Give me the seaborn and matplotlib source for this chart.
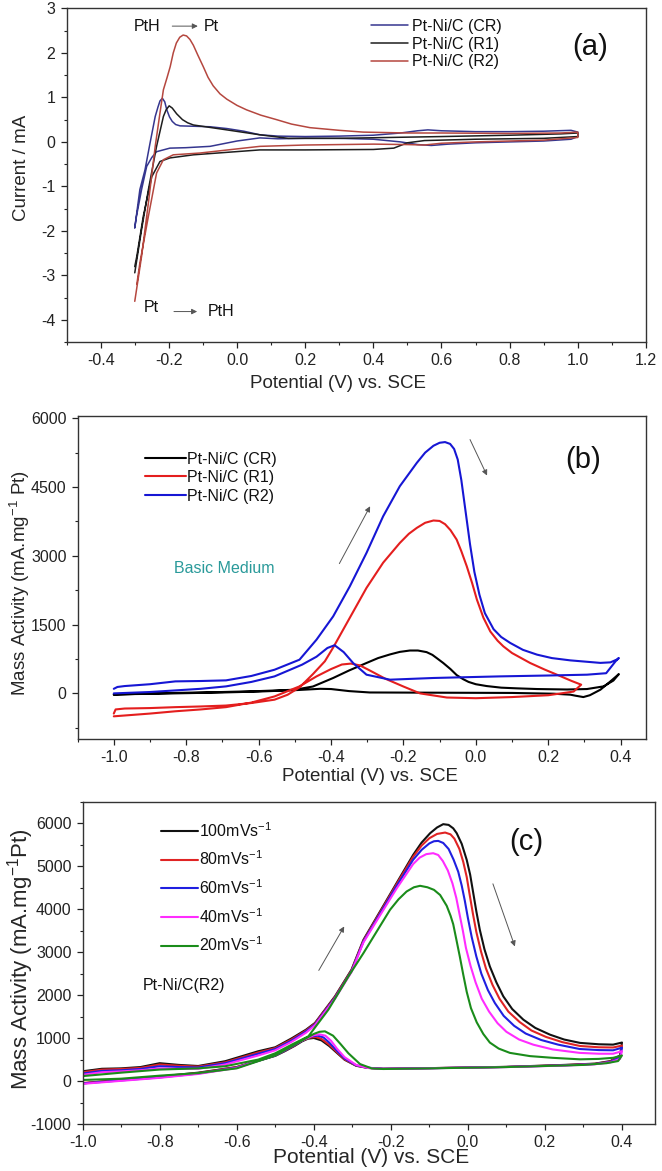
import matplotlib
import matplotlib.pyplot as plt
import seaborn as sns
from matplotlib.ticker import MultipleLocator

matplotlib.use("Agg")

# ---------------------------------------------------------------------------
# Panel (a): CV in acid, current (mA) vs potential (V vs SCE)
# each series is one closed loop of (potential, current) points read off the
# figure: anodic sweep first, then the return sweep
# ---------------------------------------------------------------------------
A_CR = [(-0.300, -1.93), (-0.285, -1.07), (-0.270, -0.63), (-0.255, -0.02), (-0.240, 0.57),
        (-0.232, 0.78), (-0.226, 0.92), (-0.219, 0.98), (-0.212, 0.90), (-0.206, 0.72),
        (-0.198, 0.56), (-0.190, 0.46), (-0.180, 0.39), (-0.167, 0.36), (-0.120, 0.35),
        (-0.079, 0.34), (-0.030, 0.30), (0.020, 0.24), (0.067, 0.16), (0.120, 0.13),
        (0.200, 0.12), (0.300, 0.13), (0.400, 0.15), (0.480, 0.20), (0.530, 0.25),
        (0.560, 0.27), (0.600, 0.25), (0.700, 0.23), (0.800, 0.23), (0.900, 0.24),
        (0.980, 0.26), (1.000, 0.22), (1.000, 0.12), (0.980, 0.06), (0.900, 0.02),
        (0.800, 0.00), (0.700, -0.02), (0.620, -0.05), (0.570, -0.08), (0.530, -0.06),
        (0.480, 0.00), (0.400, 0.06), (0.300, 0.08), (0.200, 0.08), (0.120, 0.07),
        (0.067, 0.09), (0.000, 0.02), (-0.079, -0.10), (-0.150, -0.13), (-0.197, -0.14),
        (-0.236, -0.22), (-0.250, -0.35), (-0.265, -0.55), (-0.280, -1.07), (-0.295, -1.67),
        (-0.300, -1.93)]

A_R1 = [(-0.300, -2.94), (-0.280, -1.97), (-0.260, -1.07), (-0.236, -0.10), (-0.216, 0.57),
        (-0.208, 0.72), (-0.199, 0.81), (-0.190, 0.76), (-0.177, 0.63), (-0.160, 0.50),
        (-0.145, 0.43), (-0.128, 0.38), (-0.030, 0.27), (0.067, 0.16), (0.150, 0.08),
        (0.300, 0.08), (0.450, 0.10), (0.600, 0.12), (0.800, 0.15), (0.950, 0.18),
        (1.000, 0.20), (1.000, 0.12), (0.900, 0.08), (0.700, 0.06), (0.550, 0.03),
        (0.500, -0.02), (0.460, -0.14), (0.400, -0.17), (0.200, -0.18), (0.067, -0.18),
        (-0.128, -0.29), (-0.197, -0.36), (-0.226, -0.44), (-0.250, -0.78), (-0.275, -1.67),
        (-0.294, -2.57), (-0.300, -2.80)]

A_R2 = [(-0.300, -3.58), (-0.280, -2.57), (-0.260, -1.37), (-0.240, -0.10), (-0.226, 0.65),
        (-0.216, 1.17), (-0.205, 1.45), (-0.196, 1.69), (-0.187, 2.00), (-0.178, 2.22),
        (-0.168, 2.35), (-0.158, 2.40), (-0.148, 2.38), (-0.138, 2.30), (-0.128, 2.17),
        (-0.115, 1.95), (-0.099, 1.69), (-0.085, 1.45), (-0.070, 1.26), (-0.050, 1.08),
        (-0.030, 0.96), (0.000, 0.82), (0.028, 0.72), (0.070, 0.60), (0.116, 0.50),
        (0.160, 0.40), (0.214, 0.32), (0.300, 0.26), (0.370, 0.22), (0.500, 0.20),
        (0.600, 0.20), (0.800, 0.19), (0.950, 0.20), (1.000, 0.22), (1.000, 0.10),
        (0.900, 0.04), (0.700, 0.00), (0.600, -0.03), (0.550, -0.07), (0.500, -0.06),
        (0.400, -0.05), (0.200, -0.07), (0.067, -0.10), (-0.109, -0.25), (-0.187, -0.29),
        (-0.216, -0.40), (-0.236, -0.70), (-0.260, -1.67), (-0.285, -2.72), (-0.294, -3.20)]

A_LABELS = ["Pt-Ni/C (CR)", "Pt-Ni/C (R1)", "Pt-Ni/C (R2)"]
A_COLORS = ["#35368f", "#1e1e1e", "#b5473f"]

# ---------------------------------------------------------------------------
# Panel (b): methanol oxidation in basic medium, mass activity
# ---------------------------------------------------------------------------
B_CR = [(-1.00, -30), (-0.90, 0), (-0.80, 15), (-0.70, 30), (-0.60, 50),
        (-0.50, 80), (-0.45, 150), (-0.394, 336), (-0.35, 500), (-0.302, 663),
        (-0.27, 770), (-0.237, 850), (-0.21, 905), (-0.182, 935), (-0.16, 935),
        (-0.136, 900), (-0.12, 840), (-0.108, 770), (-0.09, 663), (-0.07, 530),
        (-0.053, 400), (-0.035, 310), (-0.02, 250), (0.00, 200), (0.03, 160),
        (0.07, 125), (0.114, 110), (0.169, 95), (0.252, 85), (0.307, 95),
        (0.353, 153), (0.38, 280), (0.395, 420), (0.37, 250), (0.344, 80),
        (0.315, -40), (0.297, -80), (0.275, -50), (0.261, -28), (0.215, -7),
        (0.10, 10), (-0.10, 15), (-0.293, 20), (-0.35, 50), (-0.40, 95),
        (-0.43, 100), (-0.50, 70), (-0.60, 40), (-0.70, 20), (-0.80, 5),
        (-0.90, -10), (-1.00, -20)]

B_R1 = [(-1.00, -440), (-0.995, -350), (-0.97, -330), (-0.90, -320), (-0.83, -300),
        (-0.76, -285), (-0.69, -265), (-0.62, -210), (-0.556, -137), (-0.52, -30),
        (-0.487, 130), (-0.45, 420), (-0.417, 700), (-0.394, 1000), (-0.348, 1650),
        (-0.302, 2300), (-0.256, 2850), (-0.21, 3280), (-0.185, 3480), (-0.163, 3609),
        (-0.14, 3720), (-0.117, 3770), (-0.10, 3760), (-0.085, 3690), (-0.07, 3560),
        (-0.053, 3354), (-0.04, 3100), (-0.025, 2771), (-0.01, 2400), (0.003, 2044),
        (0.021, 1650), (0.04, 1350), (0.06, 1150), (0.076, 1026), (0.10, 880),
        (0.15, 663), (0.19, 520), (0.224, 408), (0.265, 270), (0.291, 190),
        (0.27, 40), (0.20, -40), (0.10, -80), (0.00, -105), (-0.08, -90),
        (-0.154, 0), (-0.20, 150), (-0.25, 320), (-0.293, 500), (-0.32, 610),
        (-0.345, 650), (-0.37, 630), (-0.40, 530), (-0.44, 371), (-0.487, 153),
        (-0.556, -66), (-0.62, -200), (-0.69, -300), (-0.76, -350), (-0.83, -390),
        (-0.90, -440), (-1.00, -500)]

B_R2 = [(-1.00, 100), (-0.99, 140), (-0.97, 160), (-0.90, 200), (-0.83, 262),
        (-0.76, 270), (-0.69, 284), (-0.62, 380), (-0.556, 516), (-0.487, 735),
        (-0.44, 1172), (-0.394, 1680), (-0.348, 2335), (-0.302, 3063), (-0.256, 3862),
        (-0.21, 4517), (-0.163, 5027), (-0.14, 5250), (-0.117, 5400), (-0.10, 5465),
        (-0.085, 5480), (-0.071, 5440), (-0.06, 5330), (-0.05, 5100), (-0.04, 4650),
        (-0.028, 3950), (-0.016, 3250), (-0.004, 2650), (0.01, 2150), (0.025, 1750),
        (0.049, 1400), (0.07, 1230), (0.095, 1100), (0.13, 950), (0.169, 845),
        (0.21, 770), (0.261, 720), (0.344, 665), (0.372, 677), (0.39, 740),
        (0.395, 771), (0.386, 700), (0.36, 440), (0.307, 408), (0.20, 390),
        (0.067, 371), (-0.117, 336), (-0.237, 299), (-0.302, 408), (-0.339, 663),
        (-0.365, 900), (-0.39, 1050), (-0.41, 990), (-0.44, 800), (-0.48, 626),
        (-0.556, 371), (-0.62, 250), (-0.69, 153), (-0.76, 100), (-0.83, 65),
        (-0.90, 30), (-1.00, 0)]

B_LABELS = ["Pt-Ni/C (CR)", "Pt-Ni/C (R1)", "Pt-Ni/C (R2)"]
B_COLORS = ["#000000", "#e41e1e", "#1616d4"]

# ---------------------------------------------------------------------------
# Panel (c): Pt-Ni/C(R2) at different scan rates
# ---------------------------------------------------------------------------
C_100 = [(-1.0, 232), (-0.95, 290), (-0.9, 300), (-0.85, 330), (-0.8, 420),
         (-0.75, 380), (-0.7, 355), (-0.63, 466), (-0.544, 698), (-0.5, 790),
         (-0.457, 1000), (-0.42, 1200), (-0.397, 1355), (-0.345, 1974), (-0.302, 2594),
         (-0.271, 3290), (-0.225, 3994), (-0.185, 4607), (-0.142, 5263), (-0.12, 5550),
         (-0.098, 5767), (-0.08, 5900), (-0.064, 5977), (-0.05, 5960), (-0.038, 5880),
         (-0.029, 5767), (-0.016, 5520), (-0.003, 5147), (0.006, 4800), (0.014, 4374),
         (0.022, 3950), (0.031, 3522), (0.043, 3070), (0.057, 2670), (0.074, 2300),
         (0.092, 1974), (0.115, 1680), (0.144, 1432), (0.175, 1240), (0.213, 1084),
         (0.25, 970), (0.291, 892), (0.34, 860), (0.377, 852), (0.40, 900),
         (0.395, 600), (0.37, 470), (0.33, 410), (0.25, 380), (0.10, 335),
         (-0.10, 305), (-0.22, 290), (-0.26, 310), (-0.29, 360), (-0.32, 500),
         (-0.34, 660), (-0.36, 820), (-0.38, 950), (-0.40, 1006), (-0.415, 990),
         (-0.43, 930), (-0.45, 820), (-0.475, 700), (-0.5, 590), (-0.6, 330),
         (-0.7, 200), (-0.8, 110), (-0.9, 40), (-1.0, -50)]

C_80 = [(-1.0, 210), (-0.95, 270), (-0.9, 285), (-0.85, 310), (-0.8, 390),
        (-0.75, 360), (-0.7, 340), (-0.63, 440), (-0.544, 670), (-0.5, 770),
        (-0.457, 975), (-0.42, 1180), (-0.397, 1340), (-0.345, 1960), (-0.302, 2580),
        (-0.271, 3270), (-0.225, 3970), (-0.185, 4580), (-0.142, 5220), (-0.12, 5480),
        (-0.10, 5650), (-0.08, 5750), (-0.059, 5782), (-0.045, 5740), (-0.035, 5640),
        (-0.022, 5400), (-0.012, 5100), (-0.003, 4750), (0.005, 4320), (0.013, 3900),
        (0.022, 3470), (0.034, 3020), (0.047, 2620), (0.064, 2240), (0.082, 1920),
        (0.105, 1620), (0.134, 1380), (0.165, 1180), (0.203, 1030), (0.245, 910),
        (0.291, 820), (0.34, 790), (0.377, 785), (0.40, 830), (0.395, 580),
        (0.37, 460), (0.33, 405), (0.25, 375), (0.10, 333), (-0.10, 305),
        (-0.22, 290), (-0.26, 312), (-0.29, 365), (-0.32, 510), (-0.34, 680),
        (-0.36, 850), (-0.38, 985), (-0.395, 1030), (-0.41, 1015), (-0.43, 950),
        (-0.45, 830), (-0.475, 710), (-0.5, 600), (-0.6, 330), (-0.7, 190),
        (-0.8, 100), (-0.9, 30), (-1.0, -40)]

C_60 = [(-1.0, 180), (-0.95, 240), (-0.9, 255), (-0.85, 285), (-0.8, 350),
        (-0.75, 330), (-0.7, 320), (-0.63, 420), (-0.544, 640), (-0.5, 750),
        (-0.457, 950), (-0.42, 1160), (-0.397, 1320), (-0.345, 1940), (-0.302, 2560),
        (-0.271, 3250), (-0.225, 3940), (-0.185, 4540), (-0.142, 5150), (-0.12, 5380),
        (-0.10, 5530), (-0.088, 5580), (-0.077, 5588), (-0.064, 5540), (-0.05, 5400),
        (-0.037, 5150), (-0.025, 4870), (-0.016, 4550), (-0.008, 4200), (0.0, 3800),
        (0.01, 3350), (0.022, 2900), (0.035, 2500), (0.052, 2120), (0.07, 1820),
        (0.093, 1520), (0.12, 1290), (0.15, 1110), (0.19, 960), (0.235, 850),
        (0.29, 750), (0.34, 725), (0.377, 720), (0.40, 780), (0.395, 560),
        (0.37, 450), (0.33, 400), (0.25, 370), (0.10, 332), (-0.10, 303),
        (-0.22, 290), (-0.26, 315), (-0.29, 370), (-0.32, 530), (-0.34, 710),
        (-0.36, 900), (-0.375, 1020), (-0.39, 1060), (-0.405, 1045), (-0.425, 975),
        (-0.45, 840), (-0.475, 715), (-0.5, 600), (-0.6, 320), (-0.7, 180),
        (-0.8, 90), (-0.9, 20), (-1.0, -50)]

C_40 = [(-1.0, 150), (-0.95, 210), (-0.9, 230), (-0.85, 255), (-0.8, 300),
        (-0.75, 290), (-0.7, 290), (-0.63, 390), (-0.544, 600), (-0.5, 720),
        (-0.457, 920), (-0.42, 1130), (-0.397, 1300), (-0.345, 1920), (-0.302, 2540),
        (-0.271, 3230), (-0.225, 3900), (-0.185, 4480), (-0.142, 5050), (-0.125, 5200),
        (-0.108, 5280), (-0.09, 5302), (-0.077, 5260), (-0.065, 5120), (-0.052, 4900),
        (-0.04, 4600), (-0.03, 4260), (-0.022, 3900), (-0.013, 3500), (-0.005, 3100),
        (0.007, 2680), (0.02, 2300), (0.036, 1920), (0.055, 1620), (0.077, 1350),
        (0.10, 1150), (0.133, 970), (0.17, 850), (0.22, 740), (0.29, 660),
        (0.34, 640), (0.377, 640), (0.40, 700), (0.395, 520), (0.37, 440),
        (0.33, 395), (0.25, 365), (0.10, 330), (-0.10, 302), (-0.22, 288),
        (-0.26, 310), (-0.29, 380), (-0.32, 560), (-0.34, 760), (-0.355, 940),
        (-0.37, 1060), (-0.385, 1090), (-0.40, 1070), (-0.42, 990), (-0.45, 860),
        (-0.475, 730), (-0.5, 610), (-0.6, 310), (-0.7, 170), (-0.8, 80),
        (-0.9, 10), (-1.0, -60)]

C_20 = [(-1.0, 120), (-0.9, 200), (-0.8, 272), (-0.7, 300), (-0.63, 349),
        (-0.544, 504), (-0.5, 650), (-0.457, 852), (-0.414, 1045), (-0.362, 1665),
        (-0.31, 2439), (-0.271, 2980), (-0.202, 3987), (-0.18, 4230), (-0.159, 4412),
        (-0.14, 4510), (-0.124, 4544), (-0.105, 4510), (-0.088, 4450), (-0.072, 4330),
        (-0.055, 4080), (-0.045, 3850), (-0.038, 3650), (-0.03, 3300), (-0.021, 2902),
        (-0.012, 2480), (-0.003, 2080), (0.008, 1700), (0.023, 1370), (0.04, 1100),
        (0.057, 900), (0.08, 760), (0.109, 660), (0.161, 585), (0.22, 545),
        (0.291, 510), (0.34, 520), (0.377, 545), (0.40, 600), (0.39, 470),
        (0.36, 420), (0.30, 380), (0.10, 330), (-0.10, 300), (-0.22, 285),
        (-0.25, 300), (-0.28, 400), (-0.31, 650), (-0.33, 860), (-0.35, 1060),
        (-0.371, 1161), (-0.385, 1150), (-0.40, 1100), (-0.43, 950), (-0.46, 800),
        (-0.5, 600), (-0.6, 300), (-0.7, 190), (-0.8, 130), (-0.9, 60),
        (-1.0, 30)]

C_LABELS = ["100mVs$^{-1}$", "80mVs$^{-1}$", "60mVs$^{-1}$", "40mVs$^{-1}$", "20mVs$^{-1}$"]
C_COLORS = ["#111111", "#e02424", "#1f1fe0", "#ff2cff", "#1a8c1a"]

X_LABEL = "Potential (V) vs. SCE"

# --- style ---
sns.set_style("ticks")
plt.rcParams["font.family"] = ["Liberation Sans", "DejaVu Sans"]
plt.rcParams["mathtext.fontset"] = "custom"
plt.rcParams["mathtext.rm"] = "Liberation Sans"
plt.rcParams["mathtext.it"] = "Liberation Sans:italic"
plt.rcParams["mathtext.bf"] = "Liberation Sans:bold"
plt.rcParams["axes.unicode_minus"] = False
plt.rcParams["text.color"] = "#111111"


def style_axes(ax, xlim, ylim, xmaj, ymaj):
    ax.set_xlim(*xlim)
    ax.set_ylim(*ylim)
    ax.xaxis.set_major_locator(MultipleLocator(xmaj))
    ax.xaxis.set_minor_locator(MultipleLocator(xmaj / 2))
    ax.yaxis.set_major_locator(MultipleLocator(ymaj))
    ax.yaxis.set_minor_locator(MultipleLocator(ymaj / 2))
    ax.tick_params(which="both", direction="out", top=False, right=False,
                   labelsize=11.5, colors="#222222")
    ax.tick_params(which="major", length=4.5, width=0.9)
    ax.tick_params(which="minor", length=2.5, width=0.8)
    for sp in ax.spines.values():
        sp.set_linewidth(1.0)
        sp.set_color("#333333")


def draw_loops(ax, loops, labels, colors, lw):
    for pts, lab, col in zip(loops, labels, colors):
        xs = [p[0] for p in pts]
        ys = [p[1] for p in pts]
        sns.lineplot(x=xs, y=ys, sort=False, estimator=None, color=col,
                     linewidth=lw, label=lab, ax=ax)
    for ln in ax.get_lines():
        ln.set_solid_joinstyle("round")


def arrow(ax, start, end):
    ax.annotate("", xy=end, xytext=start,
                arrowprops=dict(arrowstyle="-|>", color="#555555", lw=0.7,
                                mutation_scale=8, shrinkA=0, shrinkB=0))


def place_labels(ax, xlab, ylab, xpos, ypos, xsize, ysize):
    ax.set_xlabel(xlab, fontsize=xsize)
    ax.set_ylabel(ylab, fontsize=ysize)
    ax.xaxis.label.set_va("center")
    ax.yaxis.label.set_va("center")
    ax.xaxis.set_label_coords(*xpos)
    ax.yaxis.set_label_coords(*ypos)


fig = plt.figure(figsize=(6.62, 11.71), dpi=100)

# ---------------- (a) ----------------
ax_a = fig.add_axes([0.1006, 0.7077, 0.8752, 0.2852])
draw_loops(ax_a, [A_CR, A_R1, A_R2], A_LABELS, A_COLORS, 1.1)
style_axes(ax_a, (-0.5, 1.2), (-4.5, 3.0), 0.2, 1.0)
ax_a.legend(loc="upper left", bbox_to_anchor=(0.525, 0.968), frameon=False,
            fontsize=11.5, handlelength=2.3, handletextpad=0.25,
            labelspacing=0.17, borderpad=0, borderaxespad=0)
place_labels(ax_a, X_LABEL, "Current / mA", (0.468, -0.122), (-0.077, 0.522), 13.5, 13.5)
ax_a.text(1.036, 2.13, "(a)", fontsize=21, ha="center", va="center")
ax_a.text(-0.264, 2.60, "PtH", fontsize=11.5, ha="center", va="center")
ax_a.text(-0.076, 2.60, "Pt", fontsize=11.5, ha="center", va="center")
arrow(ax_a, (-0.19, 2.60), (-0.115, 2.60))
ax_a.text(-0.25, -3.72, "Pt", fontsize=11.5, ha="center", va="center")
ax_a.text(-0.047, -3.81, "PtH", fontsize=11.5, ha="center", va="center")
arrow(ax_a, (-0.185, -3.81), (-0.117, -3.81))

# ---------------- (b) ----------------
ax_b = fig.add_axes([0.1172, 0.3687, 0.8586, 0.2761])
draw_loops(ax_b, [B_CR, B_R1, B_R2], B_LABELS, B_COLORS, 1.5)
style_axes(ax_b, (-1.1, 0.47), (-1000, 6050), 0.2, 1500)
ax_b.legend(loc="upper left", bbox_to_anchor=(0.118, 0.89), frameon=False,
            fontsize=11.5, handlelength=2.6, handletextpad=0.05,
            labelspacing=0.22, borderpad=0, borderaxespad=0)
place_labels(ax_b, X_LABEL, "Mass Activity (mA.mg$^{-1}$ Pt)",
             (0.515, -0.116), (-0.101, 0.483), 13.5, 13.5)
ax_b.text(0.297, 5099, "(b)", fontsize=21, ha="center", va="center")
ax_b.text(-0.694, 2721, "Basic Medium", fontsize=11.5, color="#2a9a9a",
          ha="center", va="center")
arrow(ax_b, (-0.377, 2830), (-0.292, 4080))
arrow(ax_b, (-0.016, 5535), (0.031, 4750))

# ---------------- (c) ----------------
ax_c = fig.add_axes([0.1248, 0.0399, 0.8642, 0.2755])
draw_loops(ax_c, [C_100, C_80, C_60, C_40, C_20], C_LABELS, C_COLORS, 1.5)
style_axes(ax_c, (-1.0, 0.485), (-1000, 6500), 0.2, 1000)
ax_c.legend(loc="upper left", bbox_to_anchor=(0.137, 0.94), frameon=False,
            fontsize=11.5, handlelength=2.3, handletextpad=0.1,
            labelspacing=0.62, borderpad=0, borderaxespad=0)
place_labels(ax_c, X_LABEL, "Mass Activity (mA.mg$^{-1}$Pt)",
             (0.504, -0.104), (-0.109, 0.512), 15, 16)
ax_c.text(0.151, 5565, "(c)", fontsize=21, ha="center", va="center")
ax_c.text(-0.737, 2222, "Pt-Ni/C(R2)", fontsize=11.5, ha="center", va="center")
arrow(ax_c, (-0.387, 2577), (-0.321, 3599))
arrow(ax_c, (0.065, 4590), (0.122, 3134))

fig.savefig("out.png", dpi=100, facecolor="white")
plt.close(fig)
